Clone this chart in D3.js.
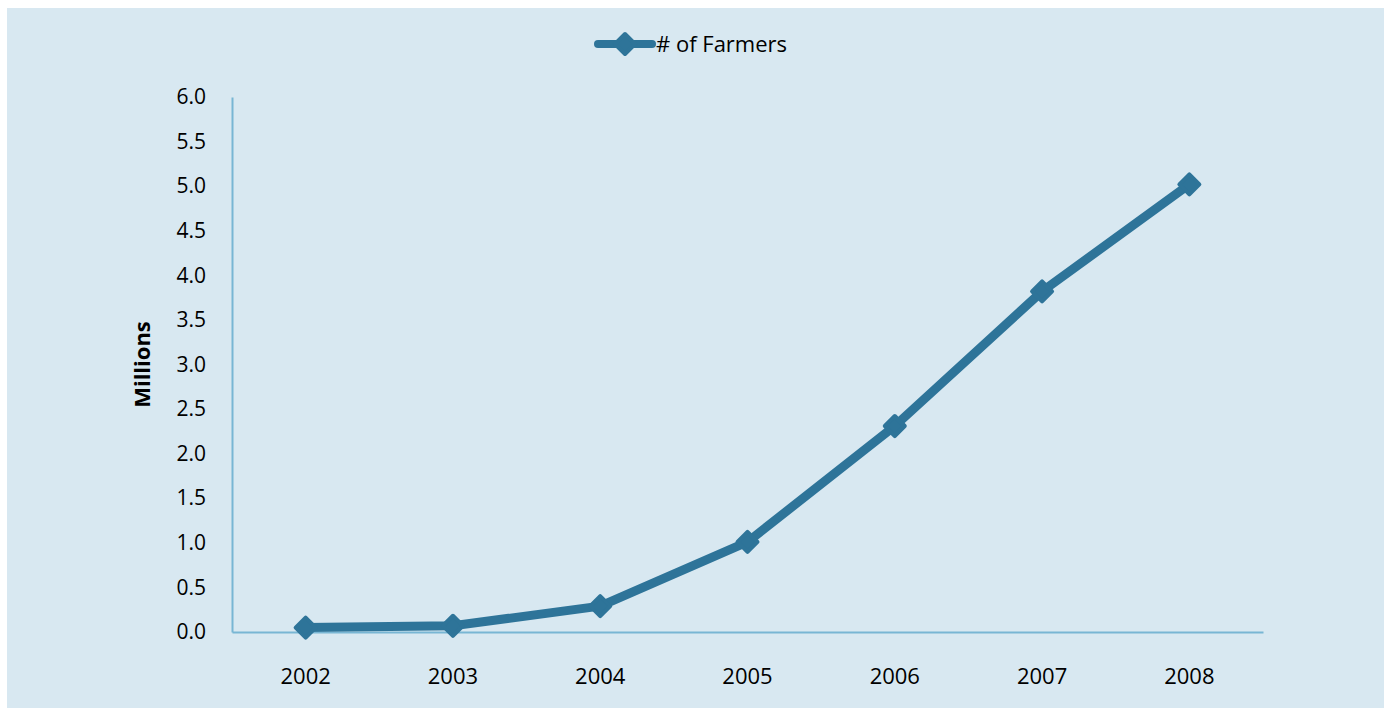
<!DOCTYPE html>
<html>
<head>
<meta charset="utf-8">
<script src="https://cdn.jsdelivr.net/npm/d3@7"></script>
<style>
  html, body { margin: 0; padding: 0; background: #fff; }
  svg { display: block; }
</style>
</head>
<body>
<svg id="chart" width="1384" height="708"></svg>
<script>
// data
const years = ["2002", "2003", "2004", "2005", "2006", "2007", "2008"];
const farmers = [0.05, 0.07, 0.29, 1.01, 2.31, 3.82, 5.02];
const yTicks = [0, 0.5, 1, 1.5, 2, 2.5, 3, 3.5, 4, 4.5, 5, 5.5, 6];
const seriesName = "# of Farmers";

(function () {
  const W = 1384, H = 708;
  const FONT = "'Open Sans', 'Liberation Sans', sans-serif";
  const LINE = "#2e7499", AXIS = "#78b6d4";

  const svg = d3.select("#chart");

  svg.append("rect")
    .attr("x", 7).attr("y", 8)
    .attr("width", W - 7).attr("height", H - 8)
    .attr("fill", "#d8e8f1");

  const left = 232, right = 1263, top = 97, bottom = 632;

  const x = d3.scaleBand().domain(years).range([left, right]);
  const y = d3.scaleLinear().domain([0, 6]).range([bottom, top]);

  // axes
  const yAxis = svg.append("g")
    .attr("transform", `translate(${left},0)`)
    .call(d3.axisLeft(y).tickValues(yTicks).tickSize(0).tickPadding(26).tickFormat(d3.format(".1f")));
  yAxis.select(".domain").attr("stroke", AXIS).attr("stroke-width", 2);

  const xAxis = svg.append("g")
    .attr("transform", `translate(0,${bottom})`)
    .call(d3.axisBottom(x).tickSize(0).tickPadding(36));
  xAxis.select(".domain").attr("stroke", AXIS).attr("stroke-width", 2);

  svg.selectAll(".tick text")
    .attr("font-family", FONT)
    .attr("font-size", 21)
    .attr("fill", "#000");
  xAxis.selectAll(".tick text").attr("font-size", 22);

  svg.append("text")
    .attr("transform", `translate(150,${(top + bottom) / 2}) rotate(-90)`)
    .attr("text-anchor", "middle")
    .attr("font-family", FONT)
    .attr("font-size", 22)
    .attr("font-weight", 700)
    .text("Millions");

  // series line
  const pts = years.map((yr, i) => ({ yr, v: farmers[i] }));
  const line = d3.line()
    .x(d => x(d.yr) + x.bandwidth() / 2)
    .y(d => y(d.v));

  svg.append("path")
    .datum(pts)
    .attr("d", line)
    .attr("fill", "none")
    .attr("stroke", LINE)
    .attr("stroke-width", 9)
    .attr("stroke-linejoin", "round");

  const diamond = "M0,-10L10,0L0,10L-10,0Z";
  svg.append("g").selectAll("path")
    .data(pts)
    .join("path")
    .attr("transform", d => `translate(${x(d.yr) + x.bandwidth() / 2},${y(d.v)})`)
    .attr("d", diamond)
    .attr("fill", LINE)
    .attr("stroke", LINE)
    .attr("stroke-width", 4)
    .attr("stroke-linejoin", "round");

  // legend
  const lg = svg.append("g").attr("transform", "translate(596,44)");
  lg.append("line")
    .attr("x1", 2).attr("x2", 56)
    .attr("stroke", LINE).attr("stroke-width", 8).attr("stroke-linecap", "round");
  lg.append("path")
    .attr("transform", "translate(29,0)")
    .attr("d", diamond)
    .attr("fill", LINE).attr("stroke", LINE)
    .attr("stroke-width", 4).attr("stroke-linejoin", "round");
  lg.append("text")
    .attr("x", 60).attr("y", 8)
    .attr("font-family", FONT)
    .attr("font-size", 22)
    .text(seriesName);
})();
</script>
</body>
</html>
